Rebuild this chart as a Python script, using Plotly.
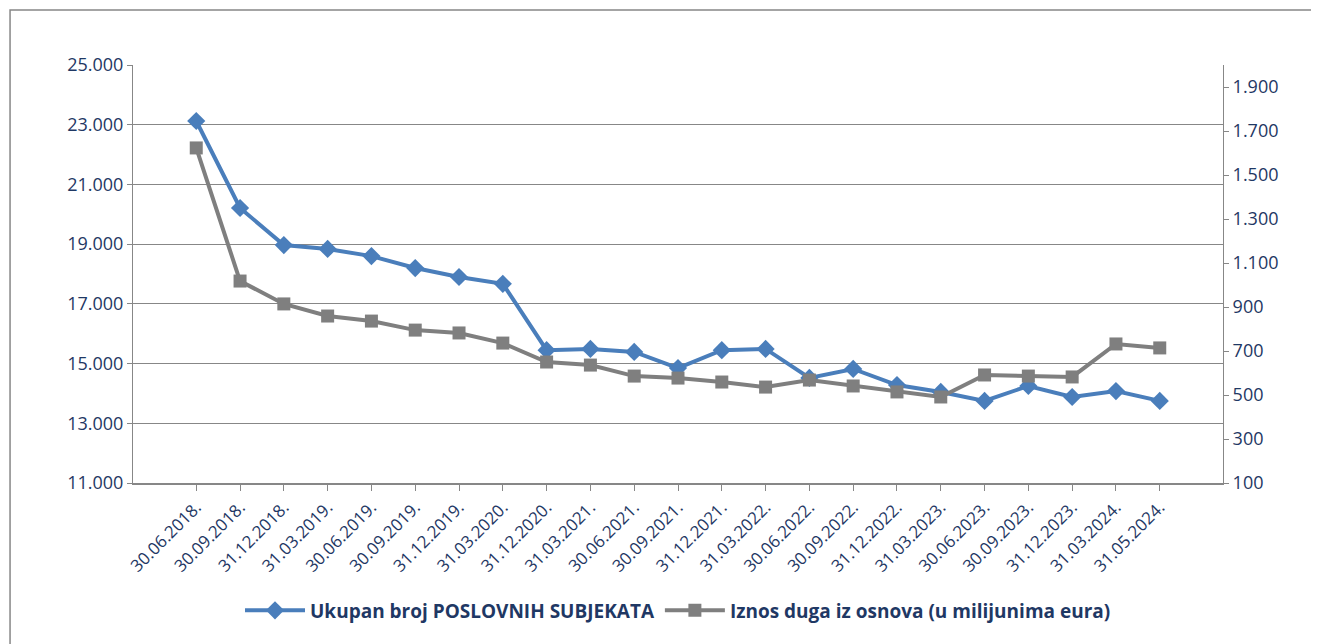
import plotly.graph_objects as go

dates = ["30.06.2018.","30.09.2018.","31.12.2018.","31.03.2019.","30.06.2019.","30.09.2019.","31.12.2019.","31.03.2020.",
         "31.12.2020.","31.03.2021.","30.06.2021.","30.09.2021.","31.12.2021.","31.03.2022.","30.06.2022.","30.09.2022.",
         "31.12.2022.","31.03.2023.","30.06.2023.","30.09.2023.","31.12.2023.","31.03.2024.","31.05.2024."]
subjekti = [23125,20210,18970,18840,18600,18200,17900,17670,15450,15490,15390,14850,15450,15490,14520,14820,
            14280,14050,13750,14250,13880,14080,13750]
dug = [1623,1018,914,859,836,795,782,736,650,636,586,577,559,536,568,541,514,491,591,586,582,732,714]

txt = "#1F3864"
fig = go.Figure()
fig.add_trace(go.Scatter(x=dates, y=subjekti, name="Ukupan broj POSLOVNIH SUBJEKATA", mode="lines+markers",
                         line=dict(color="#4A7EBB", width=4), marker=dict(symbol="diamond", size=14, color="#4A7EBB")))
fig.add_trace(go.Scatter(x=dates, y=dug, name="Iznos duga iz osnova (u milijunima eura)", mode="lines+markers", yaxis="y2",
                         line=dict(color="#7F7F7F", width=4), marker=dict(symbol="square", size=13, color="#7F7F7F")))
fig.update_layout(
    width=1319, height=644, paper_bgcolor="white", plot_bgcolor="white",
    margin=dict(l=125, r=104, t=57, b=169), separators=",.",
    font=dict(family="Open Sans", size=18, color=txt),
    xaxis=dict(showline=True, linecolor="#878787", linewidth=1.5, tickangle=-45, ticks="outside", ticklen=6,
               tickcolor="#878787", tickfont=dict(size=17), automargin=False),
    yaxis=dict(range=[11000, 25000], tick0=11000, dtick=2000, tickformat=",d", showgrid=True, gridcolor="#878787",
               showline=True, linecolor="#878787", ticks="outside", tickcolor="#878787", zeroline=False,
               automargin=False),
    yaxis2=dict(range=[100, 2000], tick0=100, dtick=200, tickformat=",d", overlaying="y", side="right",
                showgrid=False, showline=True, linecolor="#878787", ticks="outside", tickcolor="#878787",
                zeroline=False, automargin=False),
    legend=dict(orientation="h", x=0.5, xanchor="center", y=-0.305, yanchor="middle",
                font=dict(size=19, color=txt, weight="bold"), itemwidth=60, bgcolor="rgba(0,0,0,0)"),
    shapes=[dict(type="rect", xref="paper", yref="paper", x0=-0.1128, x1=1.0936, y0=-0.3995, y1=1.1316,
                 line=dict(color="#878787", width=1.5))],
)
fig.write_html("out.html")
